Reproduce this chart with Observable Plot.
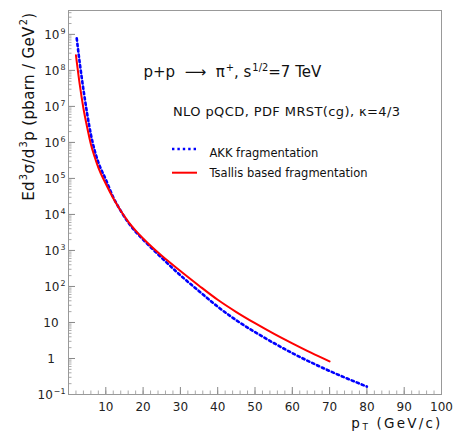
<!DOCTYPE html>
<html><head><meta charset="utf-8">
<script src="https://cdn.jsdelivr.net/npm/d3@7"></script>
<script src="https://cdn.jsdelivr.net/npm/@observablehq/plot@0.6"></script>
<style>
html,body{margin:0;padding:0;background:#fff;}
#chart{width:457px;height:433px;}
</style></head><body><div id="chart"></div>
<script>
// ---- data ----
const akkPt    = [2.2, 3, 4, 5, 6, 7, 8, 10, 12, 14, 16, 18, 20, 25, 30, 35, 40, 45, 50, 55, 60, 65, 70, 75, 80];
const akkSigma = [7.8e8, 1.66e8, 2.95e7, 6.3e6, 1.66e6, 6.0e5, 2.8e5, 9.3e4, 3.0e4, 1.26e4, 6.0e3, 3.3e3, 2.0e3, 620, 204, 74, 27.5, 11.5, 5.4, 2.7, 1.41, 0.78, 0.45, 0.27, 0.166];
const tsallisPt    = [2, 3, 4, 5, 6, 7, 8, 10, 12, 14, 16, 18, 20, 25, 30, 35, 40, 45, 50, 55, 60, 65, 70];
const tsallisSigma = [2.63e8, 4.17e7, 8.9e6, 2.63e6, 8.9e5, 3.98e5, 2.0e5, 7.1e4, 2.8e4, 1.26e4, 6.3e3, 3.55e3, 2.14e3, 708, 269, 105, 42.7, 19.5, 9.55, 4.9, 2.63, 1.45, 0.83];
const seriesNames = ["AKK fragmentation", "Tsallis based fragmentation"];
const xTicks = [10, 20, 30, 40, 50, 60, 70, 80, 90, 100];
const yTicks = [0.1, 1, 10, 1e2, 1e3, 1e4, 1e5, 1e6, 1e7, 1e8, 1e9];
const yTickLabels = ["10^{\u22121}", "1", "10", "10^{2}", "10^{3}", "10^{4}", "10^{5}", "10^{6}", "10^{7}", "10^{8}", "10^{9}"];
const reactionText = "p+p  \u27F6  \u03C0^{+}, s^{1/2}=7 TeV";
const modelText = "NLO pQCD, PDF MRST(cg), \u03BA=4/3";
const yTitle = "Ed^{3}\u03C3/d^{3}p (pbarn / GeV^{2})";
const xTitle = "p_{T} (GeV/c)";

// ---- derived tick sets ----
const xMinor = d3.range(0, 101, 2);
const yMinor = [];
for (let e = -1; e <= 9; e++) for (let k = 2; k <= 9; k++) { const v = k * Math.pow(10, e); if (v < 4.6e9) yMinor.push(v); }

const akk = akkPt.map((x, i) => ({x, y: akkSigma[i]}));
const tsallis = tsallisPt.map((x, i) => ({x, y: tsallisSigma[i]}));
const yRows = yTicks.map((v, i) => ({v, label: yTickLabels[i]}));

const FONT = "'DejaVu Sans', sans-serif";
const BLUE = "#0000ff", RED = "#ff0000";
const DASH = "2.4,3";

const plot = Plot.plot({
  width: 457, height: 433,
  marginLeft: 68, marginRight: 16, marginTop: 10, marginBottom: 39,
  x: {domain: [0, 100]},
  y: {type: "log", domain: [0.1, 4.6e9]},
  style: {fontFamily: FONT, fontSize: "12px", color: "#222", background: "white", overflow: "visible"},
  marks: [
    Plot.axisX(xMinor, {anchor: "bottom", tickSize: -3.5, fill: "none", stroke: "#aaa", label: null}),
    Plot.axisX(xTicks, {anchor: "bottom", tickSize: -7, fill: "none", stroke: "#888", label: null}),
    Plot.axisX(xTicks, {anchor: "bottom", tickSize: 0, tickPadding: 8, label: null, fontSize: 12}),
    Plot.axisY(yMinor, {anchor: "left", tickSize: -3.5, fill: "none", stroke: "#aaa", label: null}),
    Plot.axisY(yTicks, {anchor: "left", tickSize: -7, fill: "none", stroke: "#888", label: null}),
    Plot.frame({stroke: "#999"}),
    Plot.text(yRows, {filter: d => d.label.includes("^"), y: "v", text: "label", frameAnchor: "left", textAnchor: "end", dx: -3, dy: 1, fontSize: 12}),
    Plot.text(yRows, {filter: d => !d.label.includes("^"), y: "v", text: "label", frameAnchor: "left", textAnchor: "middle", dx: -17.5, dy: 1, fontSize: 12}),
    Plot.line(akk, {x: "x", y: "y", stroke: BLUE, strokeWidth: 2.6, strokeDasharray: DASH, curve: "monotone-x"}),
    Plot.line(tsallis, {x: "x", y: "y", stroke: RED, strokeWidth: 2, curve: "monotone-x"}),
    Plot.text([reactionText], {text: d => d, frameAnchor: "top-left", dx: 75, dy: 62, textAnchor: "start", lineAnchor: "middle", fontSize: 15, fill: "#111"}),
    Plot.text([modelText], {text: d => d, frameAnchor: "top-left", dx: 104.5, dy: 101.7, textAnchor: "start", lineAnchor: "middle", fontSize: 13, fill: "#111"}),
    Plot.text([seriesNames[0]], {text: d => d, frameAnchor: "top-left", dx: 141, dy: 142.7, textAnchor: "start", lineAnchor: "middle", fontSize: 11.5, fill: "#111"}),
    Plot.text([seriesNames[1]], {text: d => d, frameAnchor: "top-left", dx: 141, dy: 163.3, textAnchor: "start", lineAnchor: "middle", fontSize: 11.5, fill: "#111"}),
    Plot.text([yTitle], {text: d => d, frameAnchor: "top-left", dx: -35, dy: 2, rotate: -90, textAnchor: "end", lineAnchor: "bottom", fontSize: 15, fill: "#111"}),
    Plot.text([xTitle], {text: d => d, frameAnchor: "bottom-right", dx: 1, dy: 33, textAnchor: "end", lineAnchor: "bottom", fontSize: 13.5, fill: "#111"})
  ]
});
document.getElementById("chart").appendChild(plot);

// legend samples
const svg = d3.select(plot);
svg.append("line").attr("x1", 172).attr("x2", 197).attr("y1", 149).attr("y2", 149)
  .attr("stroke", BLUE).attr("stroke-width", 2.6).attr("stroke-dasharray", DASH);
svg.append("line").attr("x1", 172).attr("x2", 197).attr("y1", 172.7).attr("y2", 172.7)
  .attr("stroke", RED).attr("stroke-width", 2);

// letter spacing for a few texts (ROOT's wide rendering)
const spacing = new Map([[xTitle, 2.2], [yTitle, 0.35], [modelText, 0.4]]);

// rich text: ^{sup} and _{sub}
plot.querySelectorAll("text").forEach(t => {
  const s = t.textContent;
  if (spacing.has(s)) t.setAttribute("letter-spacing", spacing.get(s));
  if (!/[\^_]\{/.test(s)) return;
  const base = parseFloat(getComputedStyle(t).fontSize) || 12;
  while (t.firstChild) t.removeChild(t.firstChild);
  let cur = 0;
  s.split(/(\^\{[^}]*\}|_\{[^}]*\})/).forEach(part => {
    if (!part) return;
    let target = 0, size = null, content = part, dx = 0;
    if (part.startsWith("^{")) { target = -0.42 * base; size = 0.66 * base; content = part.slice(2, -1); dx = 1; }
    else if (part.startsWith("_{")) { target = 0.22 * base; size = 0.66 * base; content = part.slice(2, -1); dx = 0.5; }
    const ts = document.createElementNS("http://www.w3.org/2000/svg", "tspan");
    if (target !== cur) ts.setAttribute("dy", (target - cur).toFixed(2));
    if (dx) ts.setAttribute("dx", dx);
    if (size) ts.setAttribute("font-size", size.toFixed(2));
    ts.textContent = content;
    t.appendChild(ts);
    cur = target;
  });
});
</script>
</body></html>
